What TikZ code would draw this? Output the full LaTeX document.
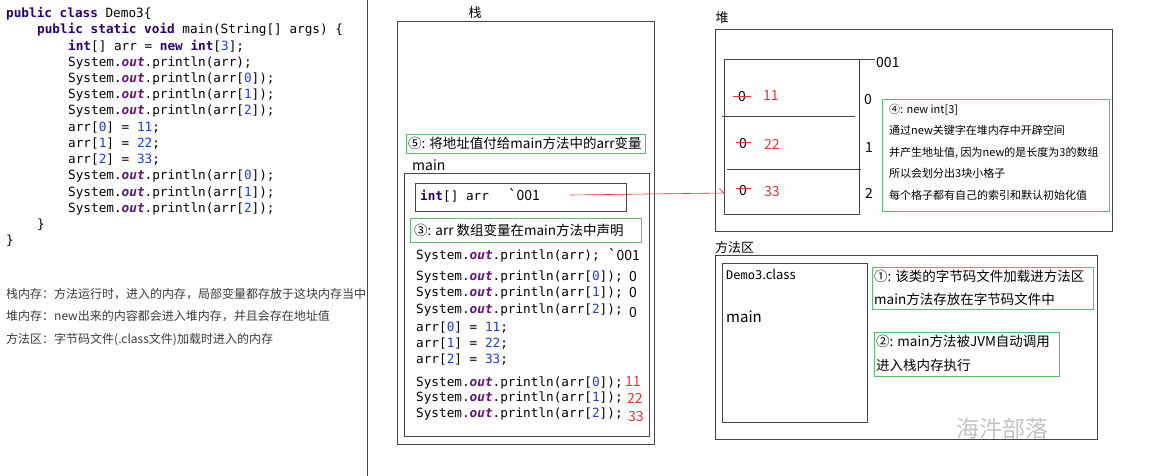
\documentclass[tikz,border=0pt]{standalone}
\usepackage{fontspec}
\setmainfont{Noto Sans CJK SC}
\setmonofont{DejaVu Sans Mono}
\usetikzlibrary{arrows.meta}
\definecolor{kwc}{RGB}{45,0,120}
\definecolor{outc}{RGB}{100,20,125}
\definecolor{numc}{RGB}{30,60,230}
\definecolor{frame}{RGB}{70,70,70}
\definecolor{gframe}{RGB}{90,190,110}
\definecolor{redv}{RGB}{235,50,50}
\definecolor{notec}{RGB}{60,60,60}
\definecolor{wm}{RGB}{195,195,195}
\newcommand\kw[1]{\textcolor{kwc}{\bfseries #1}}
\newcommand\outk{\textcolor{outc}{\bfseries\itshape out}}
\newcommand\jn[1]{\textcolor{numc}{#1}}
\tikzset{
  code/.style={anchor=base west, inner sep=0pt, font=\ttfamily\fontsize{12.7}{14}\selectfont},
  lbl/.style={anchor=base west, inner sep=0pt, font=\fontsize{13.5}{15}\selectfont},
  small/.style={anchor=base west, inner sep=0pt, font=\fontsize{11}{13}\selectfont},
  note/.style={anchor=base west, inner sep=0pt, font=\fontsize{12}{14}\selectfont, text=notec},
  val/.style={anchor=base west, inner sep=0pt, font=\fontsize{14}{16}\selectfont},
  rval/.style={val, text=redv},
  frm/.style={draw=frame, line width=0.8pt},
  gfrm/.style={draw=gframe, line width=0.8pt},
  strike/.style={draw=redv, line width=0.8pt},
  refline/.style={draw=redv, line width=0.6pt, -{Straight Barb[left,length=5pt,width=9pt]}},
}
\begin{document}
\begin{tikzpicture}[x=1pt,y=-1pt]
\useasboundingbox (0,0) rectangle (1150,476);
\fill[white] (0,0) rectangle (1150,476);
% divider
\draw[frame, line width=0.8pt] (367,0) -- (367,476);
% left code
\node[code] (c1) at (6,17.8) {\kw{public} \kw{class} Demo3\{};
\node[code] (c2) at (37,34.0) {\kw{public} \kw{static} \kw{void} main(String[] args) \{};
\node[code] (c3) at (68,50.2) {\kw{int}[] arr = \kw{new} \kw{int}[\jn{3}];};
\node[code] (c4) at (68,66.4) {System.\outk.println(arr);};
\node[code] (c5) at (68,82.6) {System.\outk.println(arr[\jn{0}]);};
\node[code] (c6) at (68,98.8) {System.\outk.println(arr[\jn{1}]);};
\node[code] (c7) at (68,115.0) {System.\outk.println(arr[\jn{2}]);};
\node[code] (c8) at (68,131.2) {arr[\jn{0}] = \jn{11};};
\node[code] (c9) at (68,147.4) {arr[\jn{1}] = \jn{22};};
\node[code] (c10) at (68,163.6) {arr[\jn{2}] = \jn{33};};
\node[code] (c11) at (68,179.8) {System.\outk.println(arr[\jn{0}]);};
\node[code] (c12) at (68,196.0) {System.\outk.println(arr[\jn{1}]);};
\node[code] (c13) at (68,212.2) {System.\outk.println(arr[\jn{2}]);};
\node[code] (c14) at (37,228.4) {\}};
\node[code] (c15) at (6,244.6) {\}};
% notes
\node[note] (n1) at (6,298.6) {栈内存：方法运行时，进入的内存，局部变量都存放于这块内存当中};
\node[note] (n2) at (6,320.3) {堆内存：new出来的内容都会进入堆内存，并且会存在地址值};
\node[note] (n3) at (6,343.6) {方法区：字节码文件(.class文件)加载时进入的内存};
% stack
\node[anchor=base, inner sep=0pt, font=\fontsize{13}{15}\selectfont] (tstack) at (475,17.2) {栈};
\draw[frm] (397,21) rectangle (654,444);
\draw[gfrm] (406,134) rectangle (645,153);
\node[lbl] (s5) at (408,148.6) {⑤: 将地址值付给main方法中的arr变量};
\node[val] (tmain) at (412,170) {main};
\draw[frm] (404,173) rectangle (649,436);
\draw[frm] (415,183) rectangle (626,211);
\node[code] (intarr) at (420,200.5) {\kw{int}[] arr};
\node[val] (addr1) at (508,200.5) {\textasciigrave 001};
\coordinate (refS) at (570,195);
\draw[gfrm] (410,218) rectangle (641,242);
\node[lbl] (s3) at (414,235.2) {③: arr 数组变量在main方法中声明};
\node[code] (m1) at (416,259.5) {System.\outk.println(arr);};
\node[val] (v1) at (608,260) {\textasciigrave 001};
\node[code] (m2) at (416,280.5) {System.\outk.println(arr[\jn{0}]);};
\node[val] (v2) at (629,281) {0};
\node[code] (m3) at (416,296.5) {System.\outk.println(arr[\jn{1}]);};
\node[val] (v3) at (629,297) {0};
\node[code] (m4) at (416,313.8) {System.\outk.println(arr[\jn{2}]);};
\node[val] (v4) at (629,317) {0};
\node[code] (m5) at (416,331.2) {arr[\jn{0}] = \jn{11};};
\node[code] (m6) at (416,347.2) {arr[\jn{1}] = \jn{22};};
\node[code] (m7) at (416,363.2) {arr[\jn{2}] = \jn{33};};
\node[code] (m8) at (416,386.2) {System.\outk.println(arr[\jn{0}]);};
\node[rval] (v8) at (625,386.5) {11};
\node[code] (m9) at (416,401.8) {System.\outk.println(arr[\jn{1}]);};
\node[rval] (v9) at (627,403) {22};
\node[code] (m10) at (416,417.8) {System.\outk.println(arr[\jn{2}]);};
\node[rval] (v10) at (628,421) {33};
% heap
\node[anchor=base, inner sep=0pt, font=\fontsize{13}{15}\selectfont] (theap) at (722,23) {堆};
\draw[frm] (715,29) rectangle (1112,231);
\draw[frm] (724,59) rectangle (859,214);
\draw[frm] (859,59) -- (875,59);
\node[val] (haddr) at (876,68) {001};
\draw[frm] (722,116) -- (855,116);
\draw[frm] (727,169) -- (861,169);
\coordinate (refE) at (725,193);
\node[val] (z0) at (738,101.7) {0};
\draw[strike] (733,96.7) -- (751,96.7);
\node[rval] (h0) at (763,101) {11};
\node[val] (z1) at (739,148) {0};
\draw[strike] (735.5,142.7) -- (750.5,142.7);
\node[rval] (h1) at (764,149) {22};
\node[val] (z2) at (739,195) {0};
\draw[strike] (735.5,188.3) -- (750.5,188.3);
\node[rval] (h2) at (764,196) {33};
\node[val] (i0) at (864,105) {0};
\node[val] (i1) at (865,152) {1};
\node[val] (i2) at (865,198) {2};
\draw[gfrm] (882,99) rectangle (1109,211);
\node[small] (b41) at (889,113.5) {④: new int[3]};
\node[small] (b42) at (889,134.2) {通过new关键字在堆内存中开辟空间};
\node[small] (b43) at (889,156.2) {并产生地址值, 因为new的是长度为3的数组};
\node[small] (b44) at (889,177.5) {所以会划分出3块小格子};
\node[small] (b45) at (889,199.2) {每个格子都有自己的索引和默认初始化值};
\draw[refline] (refS) -- (refE);
% method area
\node[anchor=base west, inner sep=0pt, font=\fontsize{13}{15}\selectfont] (tmeth) at (715,252) {方法区};
\draw[frm] (715,255) rectangle (1097,439);
\draw[frm] (722,263) rectangle (867,422);
\node[anchor=base west, inner sep=0pt] (dclass) at (726,279.5) {{\ttfamily\fontsize{12}{14}\selectfont Demo3}{\fontsize{13}{15}\selectfont .class}};
\node[anchor=base west, inner sep=0pt, font=\fontsize{15}{17}\selectfont] (mmain) at (726,322) {main};
\draw[gfrm] (872,267) rectangle (1093,309);
\node[lbl] (b11) at (874,281.8) {①: 该类的字节码文件加载进方法区};
\node[lbl] (b12) at (874,304.1) {main方法存放在字节码文件中};
\draw[gfrm] (874,332) rectangle (1059,376);
\node[lbl] (b21) at (876,346.1) {②: main方法被JVM自动调用};
\node[lbl] (b22) at (876,370.1) {进入栈内存执行};
\node[anchor=base west, inner sep=0pt, font=\fontsize{23}{25}\selectfont, text=wm] (wmk) at (956,437.7) {海汼部落};
\end{tikzpicture}
\end{document}
